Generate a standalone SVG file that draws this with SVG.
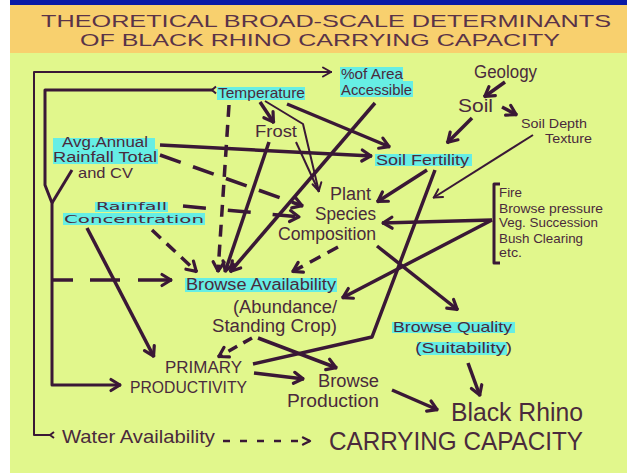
<svg xmlns="http://www.w3.org/2000/svg" width="627" height="473" viewBox="0 0 627 473">
<defs>
<style>
.t{font-family:"Liberation Sans","Noto Sans",sans-serif;fill:#4a2a3c;}
.w{font-family:"DejaVu Sans","Liberation Sans",sans-serif;fill:#4a2a3c;}
.ti{font-family:"Liberation Sans","DejaVu Sans",sans-serif;fill:#5a3348;}
.hl{fill:#66EEE4;}
.k{fill:none;stroke:#3a1836;stroke-width:3.5;stroke-linejoin:round;}
.m{fill:none;stroke:#3a1836;stroke-width:2;stroke-linejoin:round;}
.d{stroke-dasharray:12 8;}
</style>
<marker id="ah" markerUnits="userSpaceOnUse" markerWidth="30" markerHeight="30" viewBox="-15 -15 30 30" refX="0" refY="0" orient="auto" overflow="visible">
<path d="M-10,-5.5 L-1,0 L-10,5.5" fill="none" stroke="#3a1836" stroke-width="3.2" stroke-linecap="round" stroke-linejoin="round"/>
</marker>
<marker id="as" markerUnits="userSpaceOnUse" markerWidth="30" markerHeight="30" viewBox="-15 -15 30 30" refX="0" refY="0" orient="auto" overflow="visible">
<path d="M-9,-4.5 L-1,0 L-9,4.5" fill="none" stroke="#3a1836" stroke-width="2" stroke-linecap="round" stroke-linejoin="round"/>
</marker>
<marker id="aw" markerUnits="userSpaceOnUse" markerWidth="30" markerHeight="30" viewBox="-15 -15 30 30" refX="0" refY="0" orient="auto" overflow="visible">
<path d="M-7,-3.5 L0,0 L-7,3.5" fill="none" stroke="#3a1836" stroke-width="2.4" stroke-linecap="round" stroke-linejoin="round"/>
</marker>
</defs>

<rect x="0" y="0" width="627" height="473" fill="#ffffff"/>
<rect x="10" y="0" width="617" height="473" fill="#E1F78C"/>
<rect x="10" y="5" width="617" height="48" fill="#F8D06E"/>
<rect x="10" y="0" width="617" height="5" fill="#0A1AA6"/>

<g id="title">
<text class="ti" x="41" y="27" font-size="17" textLength="570" lengthAdjust="spacingAndGlyphs">THEORETICAL BROAD-SCALE DETERMINANTS</text>
<text class="ti" x="80" y="46" font-size="17" textLength="480" lengthAdjust="spacingAndGlyphs">OF BLACK RHINO CARRYING CAPACITY</text>
</g>

<g id="connectors">
<path class="m" d="M50,435 H34 V72 H332" marker-end="url(#as)"/>
<path class="m" d="M50,435 l4,-3 M50,435 l4,3"/>
<path class="k" style="stroke-width:3" d="M213,90 H45 V185 L52,203 V385 H121" marker-end="url(#ah)"/>
<path class="m" d="M212,90 l4,-3.5 M212,90 l4,3.5"/>
<path class="k" style="stroke-width:3" d="M72,170 L52,203"/>
<path class="k" style="stroke-dasharray:21 17 30 18 40" d="M52,280 H172" marker-end="url(#ah)"/>
<path class="k" d="M260,102 L274,123" marker-end="url(#ah)"/>
<path class="m" d="M265,101 L303,124 L319,192" marker-end="url(#as)"/>
<path class="m" d="M296,142 L319,192"/>
<path class="k" d="M287,104 L390,147" marker-end="url(#ah)"/>
<path class="k d" d="M229,105 L218,272" marker-end="url(#ah)"/>
<path class="k" d="M269,142 L225,272" marker-end="url(#ah)"/>
<path class="k" d="M375,103 L230,272" marker-end="url(#ah)"/>
<path class="k" d="M160,145 L372,156" marker-end="url(#ah)"/>
<path class="k" style="stroke-dasharray:22 13" d="M160,155 L303,206" marker-end="url(#ah)"/>
<path class="k" style="stroke-dasharray:23 22" d="M183,206 L300,217" marker-end="url(#ah)"/>
<path class="k d" d="M152,230 L197,272" marker-end="url(#ah)"/>
<path class="k" d="M87,228 L154,357" marker-end="url(#ah)"/>
<path class="k" d="M427,170 L377,202" marker-end="url(#ah)"/>
<path class="k" d="M435,170 L372,337 L253,364"/>
<path class="m" d="M533,135 L433,198" marker-end="url(#as)"/>
<path class="k" d="M505,82 L484,97" marker-end="url(#ah)"/>
<path class="k" d="M502,107 L517,115" marker-end="url(#ah)"/>
<path class="k" d="M472,118 L447,143" marker-end="url(#ah)"/>
<path class="k" d="M492,220 L382,223" marker-end="url(#ah)"/>
<path class="k" d="M492,220 L342,298" marker-end="url(#ah)"/>
<path class="k d" d="M338,247 L292,272" marker-end="url(#ah)"/>
<path class="k" d="M377,246 L458,310" marker-end="url(#ah)"/>
<path class="k" style="stroke-dasharray:10 7" d="M252,338 L218,357" marker-end="url(#ah)"/>
<path class="k" d="M258,338 L337,368" marker-end="url(#ah)"/>
<path class="k" d="M254,373 L304,379" marker-end="url(#ah)"/>
<path class="k" d="M392,390 L438,410" marker-end="url(#ah)"/>
<path class="k" d="M468,363 L480,396" marker-end="url(#ah)"/>
<path class="k" style="stroke-width:2.4;stroke-dasharray:7 10" d="M223,441 H310" marker-end="url(#aw)"/>
</g>

<g id="area-accessible">
<rect class="hl" x="340" y="67" width="63" height="14"/>
<rect class="hl" x="340" y="81" width="73" height="16"/>
<text class="t" x="341" y="79" font-size="15" textLength="62" lengthAdjust="spacingAndGlyphs">%of Area</text>
<text class="t" x="341" y="95" font-size="15" textLength="71" lengthAdjust="spacingAndGlyphs">Accessible</text>
</g>
<g id="geology"><text class="t" x="474" y="78" font-size="18" textLength="63" lengthAdjust="spacingAndGlyphs">Geology</text></g>
<g id="soil"><text class="t" x="458" y="112" font-size="19" textLength="35" lengthAdjust="spacingAndGlyphs">Soil</text></g>
<g id="soil-depth">
<text class="t" x="521" y="128" font-size="13" textLength="66" lengthAdjust="spacingAndGlyphs">Soil Depth</text>
<text class="t" x="545" y="143" font-size="13" textLength="47" lengthAdjust="spacingAndGlyphs">Texture</text>
</g>
<g id="temperature">
<rect class="hl" x="217" y="87" width="88" height="13"/>
<text class="t" x="218" y="98" font-size="15" textLength="87" lengthAdjust="spacingAndGlyphs">Temperature</text>
</g>
<g id="frost"><text class="t" x="255" y="137" font-size="17" textLength="42" lengthAdjust="spacingAndGlyphs">Frost</text></g>
<g id="rainfall-total">
<rect class="hl" x="53" y="138" width="102" height="11"/>
<rect class="hl" x="53" y="149" width="105" height="15"/>
<text class="t" x="62" y="147" font-size="14" textLength="86" lengthAdjust="spacingAndGlyphs">Avg.Annual</text>
<text class="t" x="53" y="162" font-size="14" textLength="104" lengthAdjust="spacingAndGlyphs">Rainfall Total</text>
<text class="t" x="78" y="178" font-size="15" textLength="55" lengthAdjust="spacingAndGlyphs">and CV</text>
</g>
<g id="soil-fertility">
<rect class="hl" x="375" y="154" width="97" height="12"/>
<text class="t" x="376" y="165" font-size="15" textLength="93" lengthAdjust="spacingAndGlyphs">Soil Fertility</text>
</g>
<g id="plant-species">
<text class="t" x="330" y="200" font-size="18" textLength="41" lengthAdjust="spacingAndGlyphs">Plant</text>
<text class="t" x="315" y="220" font-size="18" textLength="61" lengthAdjust="spacingAndGlyphs">Species</text>
<text class="t" x="278" y="240" font-size="18" textLength="98" lengthAdjust="spacingAndGlyphs">Composition</text>
</g>
<g id="factors">
<path class="k" style="stroke-width:3" d="M500,184 H494 V263 H500"/>
<text class="t" x="499" y="197" font-size="13" textLength="23" lengthAdjust="spacingAndGlyphs">Fire</text>
<text class="t" x="499" y="213" font-size="13" textLength="104" lengthAdjust="spacingAndGlyphs">Browse pressure</text>
<text class="t" x="499" y="227" font-size="13" textLength="99" lengthAdjust="spacingAndGlyphs">Veg. Succession</text>
<text class="t" x="499" y="243" font-size="13" textLength="84" lengthAdjust="spacingAndGlyphs">Bush Clearing</text>
<text class="t" x="499" y="257" font-size="13" textLength="23" lengthAdjust="spacingAndGlyphs">etc.</text>
</g>
<g id="rainfall-concentration">
<rect class="hl" x="95" y="202" width="73" height="10"/>
<rect class="hl" x="63" y="213" width="142" height="12"/>
<text class="w" x="96" y="210" font-size="11" textLength="71" lengthAdjust="spacingAndGlyphs">Rainfall</text>
<text class="w" x="64" y="223" font-size="11" textLength="140" lengthAdjust="spacingAndGlyphs">Concentration</text>
</g>
<g id="browse-availability">
<rect class="hl" x="185" y="278" width="152" height="14"/>
<text class="t" x="186" y="290" font-size="16" textLength="150" lengthAdjust="spacingAndGlyphs">Browse Availability</text>
<text class="t" x="233" y="313" font-size="18" textLength="104" lengthAdjust="spacingAndGlyphs">(Abundance/</text>
<text class="t" x="212" y="332" font-size="18" textLength="125" lengthAdjust="spacingAndGlyphs">Standing Crop)</text>
</g>
<g id="browse-quality">
<rect class="hl" x="392" y="322" width="123" height="11"/>
<rect class="hl" x="417" y="342" width="90" height="13"/>
<text class="t" x="393" y="332" font-size="15" textLength="119" lengthAdjust="spacingAndGlyphs">Browse Quality</text>
<text class="t" x="415" y="353" font-size="15" textLength="97" lengthAdjust="spacingAndGlyphs">(Suitability)</text>
</g>
<g id="primary-productivity">
<text class="t" x="165" y="373" font-size="17" textLength="77" lengthAdjust="spacingAndGlyphs">PRIMARY</text>
<text class="t" x="130" y="393" font-size="17" textLength="117" lengthAdjust="spacingAndGlyphs">PRODUCTIVITY</text>
</g>
<g id="browse-production">
<text class="t" x="318" y="387" font-size="18" textLength="61" lengthAdjust="spacingAndGlyphs">Browse</text>
<text class="t" x="287" y="407" font-size="18" textLength="92" lengthAdjust="spacingAndGlyphs">Production</text>
</g>
<g id="water-availability">
<text class="t" x="62" y="443" font-size="19" textLength="153" lengthAdjust="spacingAndGlyphs">Water Availability</text>
</g>
<g id="carrying-capacity">
<text class="t" x="451" y="421" font-size="25" textLength="132" lengthAdjust="spacingAndGlyphs">Black Rhino</text>
<text class="t" x="329" y="450" font-size="25" textLength="254" lengthAdjust="spacingAndGlyphs">CARRYING CAPACITY</text>
</g>
</svg>
